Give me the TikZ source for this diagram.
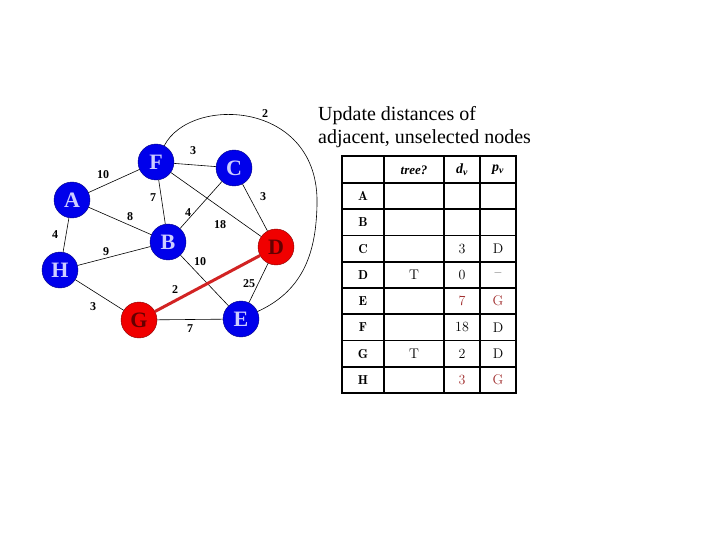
\documentclass[tikz,border=0pt]{standalone}
\usepackage{fontspec}
\setmainfont{Liberation Serif}
\usetikzlibrary{positioning}
\definecolor{nodeblue}{RGB}{0,0,235}
\definecolor{nodered}{RGB}{240,0,0}
\definecolor{letterblue}{RGB}{205,205,255}
\definecolor{letterred}{RGB}{100,0,0}
\definecolor{pathred}{RGB}{210,35,35}
\definecolor{updred}{RGB}{160,45,45}

\begin{document}
\begin{tikzpicture}[x=1pt, y=-1pt]
    		\tikzstyle{vertex} = [circle, draw=nodeblue!55!black, minimum size=36pt, inner sep=0pt, fill=nodeblue, text=letterblue, font=\fontsize{22}{22}\selectfont\bfseries]
    		\tikzstyle{picked} = [vertex, fill=nodered, draw=nodered!55!black, text=letterred]
    		\tikzstyle{weight} = [inner sep=1pt, font=\fontsize{12}{12}\selectfont\bfseries]
    		\tikzstyle{cell} = [inner sep=0pt, font=\fontfamily{lmr}\fontsize{14}{14}\selectfont]
    		\tikzstyle{rowlabel} = [inner sep=0pt, font=\fontfamily{lmr}\fontsize{13}{13}\selectfont\bfseries]
    		\tikzstyle{headlabel} = [inner sep=0pt, font=\fontsize{13}{13}\selectfont\bfseries\itshape]
    		\useasboundingbox (0,0) rectangle (720,540);
		% graph
		\foreach \name/\x/\y in {F/156/162, C/234/168, A/72/200, B/168/242, H/60/270, E/241/319}
    		{
        		\node[vertex] (\name) at (\x,\y) {\name};
    		}
		\foreach \name/\x/\y in {D/276/247, G/139/320}
    		{
        		\node[picked] (\name) at (\x,\y) {\name};
    		}
		\foreach \a/\b in {A/F, F/C, F/B, F/D, A/B, A/H, C/B, C/D, H/B, B/E, D/E, H/G, G/E}
    		{
        		\draw[line width=0.6pt] (\a) -- (\b);
    		}
		\draw[pathred, line width=3pt] (G) -- (D);
		\draw[line width=0.6pt] (F) .. controls (190,95) and (320,100) .. (317,205) .. controls (316,250) and (305,290) .. (E);
		\foreach \w/\x/\y [count=\i] in {10/103/175, 3/193/151, 7/153/198, 4/188/213, 8/130/217, 18/220/225, 3/263/197, 4/55/235, 9/106/252, 10/200/262, 2/175/290, 25/249/284, 3/93/307, 7/190/329, 2/265/114}
    		{
        		\node[weight] (w\i) at (\x,\y) {\w};
    		}
		% title
		\node[anchor=north west, align=left, inner sep=0pt, font=\fontsize{20}{23}\selectfont] (title) at (318,106) {Update distances of\\adjacent, unselected nodes};
		% table
		\draw[line width=2.5pt] (342,156) rectangle (516,393);
		\foreach \x in {384,444,480}
    		{
        		\draw[line width=1.8pt] (\x,156) -- (\x,393);
    		}
		\foreach \i in {0,...,7}
    		{
        		\draw[line width=1.8pt] (342,{183+26.25*\i}) -- (516,{183+26.25*\i});
    		}
		\node[headlabel] (htree) at (414,170) {tree?};
		\node[headlabel, font=\fontsize{14}{14}\selectfont\bfseries\itshape] (hdist) at (462,170) {d\textsubscript{v}};
		\node[headlabel, font=\fontsize{14}{14}\selectfont\bfseries\itshape] (hprev) at (498,170) {p\textsubscript{v}};
		\foreach \name [count=\i] in {A,B,C,D,E,F,G,H}
    		{
        		\node[rowlabel] (row\name) at (363,{196.1+26.25*(\i-1)}) {\name};
    		}
		\foreach \name in {D,G}
    		{
        		\node[cell] (t\name) at (414,0 |- row\name) {T};
    		}
		\foreach \name/\dist/\prev/\col in {C/3/D/black, D/0/--/black, E/7/G/updred, F/18/D/black, G/2/D/black, H/3/G/updred}
    		{
        		\node[cell, text=\col] (d\name) at (462,0 |- row\name) {\dist};
        		\node[cell, text=\col] (p\name) at (498,0 |- row\name) {\prev};
    		}
		\end{tikzpicture}
\end{document}
